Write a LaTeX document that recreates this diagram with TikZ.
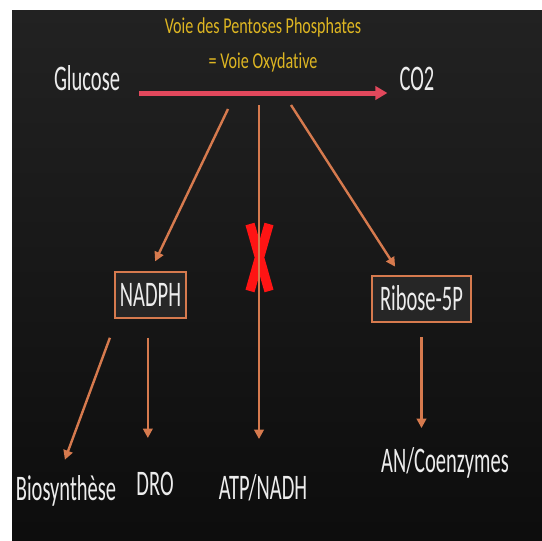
\documentclass[tikz,border=0pt]{standalone}
\usepackage{fontspec}
\setmainfont{Carlito}[FakeStretch=0.57, Ligatures=NoCommon]
\newfontfamily\titlefont{Carlito}[FakeStretch=0.71, Ligatures=NoCommon]
\usetikzlibrary{arrows.meta}
\definecolor{gold}{RGB}{222,182,34}
\definecolor{pinkred}{RGB}{226,72,92}
\definecolor{copper}{RGB}{214,122,78}
\definecolor{crossred}{RGB}{255,20,20}
\definecolor{chalk}{RGB}{236,236,236}
\definecolor{panel}{RGB}{34,34,34}

\begin{document}
\begin{tikzpicture}[x=0.75pt, y=-0.75pt,
    lbl/.style = {text=chalk, font=\fontsize{27}{30}\selectfont, anchor=base, inner sep=0pt},
    box/.style = {draw=copper, line width=1.5pt, fill=black!85, text=chalk,
                  font=\fontsize{27}{30}\selectfont, inner sep=0pt, minimum height=34.5pt},
    link/.style = {->, draw=copper, line width=1.8pt},
    >={Triangle[length=7pt, width=7pt]}]
    \useasboundingbox (0, 0) rectangle (542, 540);
    \fill [top color=panel, bottom color=black!95] (12, 10) rectangle (542, 540);

    \node [text=gold, font=\titlefont\fontsize{17}{26}\selectfont, align=center] (title) at (263, 45)
        {Voie des Pentoses Phosphates\\= Voie Oxydative};
    \node [lbl] (glucose) at (87, 90) {Glucose};
    \node [lbl] (co2) at (417, 90) {CO2};
    \draw [pinkred, line width=3.75pt, -{Triangle[length=9pt, width=10pt]}]
        ([shift={(14pt,-2.25pt)}]glucose.base east) -- ([shift={(-9pt,-2.25pt)}]co2.base west);

    \coordinate (s1) at (228, 109);
    \coordinate (s2) at (259, 105);
    \coordinate (s3) at (291, 105);

    \node [box, minimum width=53pt] (nadph) at (150.5, 295) {NADPH};
    \node [box, minimum width=74pt] (ribose) at (421.5, 298.5) {Ribose-5P};

    \node [lbl] (bio) at (66, 500) {Biosynthèse};
    \node [lbl] (dro) at (155, 495) {DRO};
    \node [lbl] (atp) at (263, 499) {ATP/NADH};
    \node [lbl] (an) at (445, 472) {AN/Coenzymes};

    % la voie vers ATP/NADH est barree
    \draw [crossred, line width=7pt] (250, 224) -- (269, 291) (269, 224) -- (250, 291);

    \draw [link, shorten >=8pt] (s1) -- (nadph.north);
    \draw [link, shorten >=26pt] (s2) -- (s2 |- atp.north);
    \draw [link, shorten >=7pt] (s3) -- ([xshift=-16pt]ribose.north);

    \draw [link, shorten <=15pt, shorten >=12pt] ([xshift=2pt]nadph.south west) -- ([xshift=-5pt]bio.north);
    \draw [link, shorten <=14pt, shorten >=25pt] ([xshift=-2pt]nadph.south) -- ([xshift=-2pt]nadph.south |- dro.north);
    \draw [link, shorten <=11pt, shorten >=14pt] (ribose.south) -- (ribose.south |- an.north);
\end{tikzpicture}
\end{document}
